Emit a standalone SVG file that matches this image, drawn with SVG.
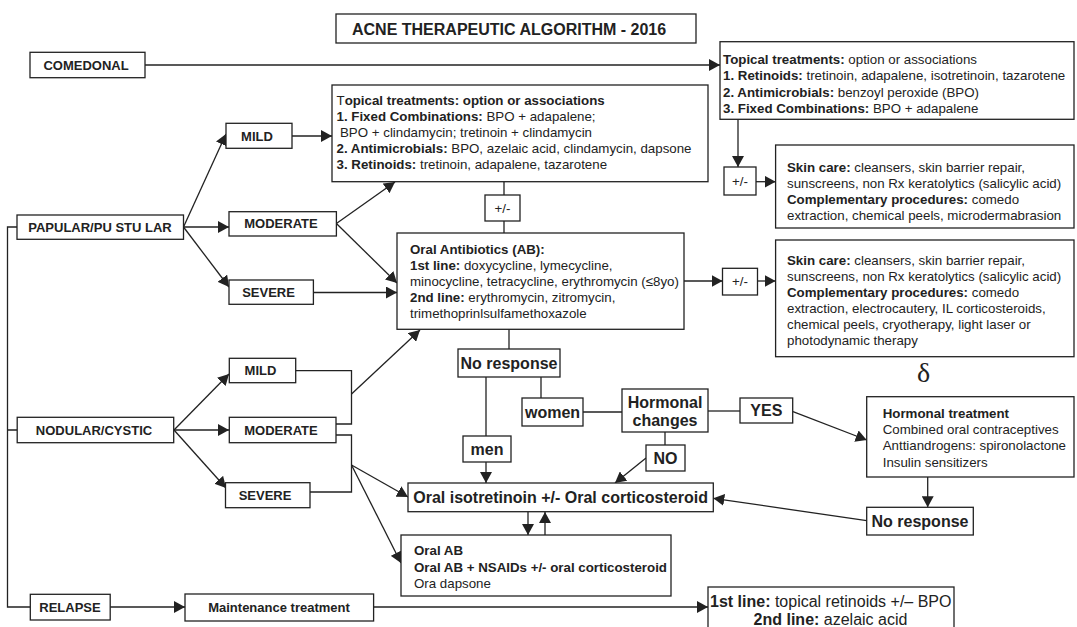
<svg xmlns="http://www.w3.org/2000/svg" width="1077" height="627" viewBox="0 0 1077 627">
  <style>
    text { font-family: "Liberation Sans", Arial, Helvetica, sans-serif; fill: #222; }
    .box { fill: #fff; stroke: #222; stroke-width: 1.3; }
    .lbl { font-size: 13px; font-weight: bold; text-anchor: middle; }
    .big { font-size: 16px; font-weight: bold; text-anchor: middle; }
    .body { font-size: 13.3px; }
    .b { font-weight: bold; }
    .edge { fill: none; stroke: #222; stroke-width: 1.3; }
    .arr { marker-end: url(#head); }
  </style>
  <defs>
    <marker id="head" markerUnits="userSpaceOnUse" markerWidth="12" markerHeight="12" refX="11" refY="6" orient="auto">
      <path d="M0,0 L11,6 L0,12 Z" fill="#222"/>
    </marker>
  </defs>
  <rect width="1077" height="627" fill="#fff"/>

  <!-- connectors -->
  <g id="connectors">
    <path class="edge arr" d="M145,65 H720"/>
    <path class="edge arr" d="M738,119.3 V167"/>
    <path class="edge arr" d="M756,181.7 H775.6"/>
    <path class="edge arr" d="M183.5,227 L226,134"/>
    <path class="edge arr" d="M183.5,227 H229"/>
    <path class="edge arr" d="M183.5,227 L229,287"/>
    <path class="edge arr" d="M292,136 H332"/>
    <path class="edge arr" d="M336.4,223.5 L395,182"/>
    <path class="edge arr" d="M336.4,223.5 L397,283"/>
    <path class="edge arr" d="M313.4,292.5 H397"/>
    <path class="edge" d="M504,181.7 V195 M504,221 V233"/>
    <path class="edge arr" d="M684,281 H722.5"/>
    <path class="edge arr" d="M757.5,281 H775.6"/>
    <path class="edge" d="M509,329 V349"/>
    <path class="edge" d="M486,377 V436 M541,377 V398"/>
    <path class="edge" d="M583,412 H622"/>
    <path class="edge" d="M708,411 H740"/>
    <path class="edge arr" d="M793,411.7 L866.7,440"/>
    <path class="edge" d="M665,432 V445"/>
    <path class="edge arr" d="M646,458 L615,483"/>
    <path class="edge arr" d="M486,462 V483"/>
    <path class="edge arr" d="M927.7,477 V507.3"/>
    <path class="edge arr" d="M866.7,520.7 L713.3,498.3"/>
    <path class="edge arr" d="M528,512 V535"/>
    <path class="edge arr" d="M545,535 V512"/>
    <!-- nodular / cystic branches -->
    <path class="edge" d="M295.7,370.7 H351.5 V424 H336"/>
    <path class="edge arr" d="M351.5,394 L420,330"/>
    <path class="edge arr" d="M174,430 L229,374"/>
    <path class="edge arr" d="M174,430 H229"/>
    <path class="edge arr" d="M174,430 L226,488"/>
    <path class="edge" d="M336,435 H351.5 V492 H310"/>
    <path class="edge arr" d="M351.5,465 L408,497"/>
    <path class="edge arr" d="M351.5,465 L401,563"/>
    <!-- left spine -->
    <path class="edge" d="M17,227 H7.5 V607 H30 M7.5,430 H17"/>
    <path class="edge arr" d="M110,607 H185"/>
    <path class="edge arr" d="M373.6,607 H708"/>
  </g>

  <g id="title">
    <rect class="box" x="336" y="14" width="360" height="29"/>
    <text x="352" y="34.7" style="font-size:16px;font-weight:bold">ACNE THERAPEUTIC ALGORITHM - 2016</text>
  </g>

  <g id="comedonal">
    <rect class="box" x="30" y="52.3" width="115" height="25.4"/>
    <text class="lbl" x="86" y="69.7">COMEDONAL</text>
  </g>

  <g id="comedonal-topical">
    <rect class="box" x="720" y="41.7" width="354" height="77.6"/>
    <text class="body" x="723" y="64"><tspan class="b">Topical treatments:</tspan> option or associations</text>
    <text class="body" x="723" y="80.3"><tspan class="b">1. Retinoids:</tspan> tretinoin, adapalene, isotretinoin, tazarotene</text>
    <text class="body" x="723" y="96.6"><tspan class="b">2. Antimicrobials:</tspan> benzoyl peroxide (BPO)</text>
    <text class="body" x="723" y="112.9"><tspan class="b">3. Fixed Combinations:</tspan> BPO + adapalene</text>
  </g>

  <g id="pm-comedonal">
    <rect class="box" x="724" y="167" width="32" height="28"/>
    <text class="body" x="740" y="185.7" text-anchor="middle">+/-</text>
  </g>

  <g id="skin-care-1">
    <rect class="box" x="775.6" y="145" width="298.4" height="83"/>
    <text class="body" x="787" y="171.8"><tspan class="b">Skin care:</tspan> cleansers, skin barrier repair,</text>
    <text class="body" x="787" y="187.8">sunscreens, non Rx keratolytics (salicylic acid)</text>
    <text class="body" x="787" y="203.8"><tspan class="b">Complementary procedures:</tspan> comedo</text>
    <text class="body" x="787" y="219.8">extraction, chemical peels, microdermabrasion</text>
  </g>

  <g id="papular">
    <rect class="box" x="17" y="215" width="166.5" height="24.3"/>
    <text class="lbl" x="100" y="231.7">PAPULAR/PU STU LAR</text>
  </g>

  <g id="pap-mild">
    <rect class="box" x="226" y="123.3" width="66" height="25"/>
    <text class="lbl" x="257" y="140.7">MILD</text>
  </g>

  <g id="pap-moderate">
    <rect class="box" x="229" y="211.7" width="107.4" height="24.3"/>
    <text class="lbl" x="281" y="228.3">MODERATE</text>
  </g>

  <g id="pap-severe">
    <rect class="box" x="229" y="280" width="84.4" height="24.3"/>
    <text class="lbl" x="268.5" y="296.8">SEVERE</text>
  </g>

  <g id="pap-topical">
    <rect class="box" x="332" y="85" width="376" height="96.7"/>
    <text class="body" x="336.5" y="104.8">T<tspan class="b">opical treatments: option or associations</tspan></text>
    <text class="body" x="336.5" y="121"><tspan class="b">1. Fixed Combinations:</tspan> BPO + adapalene;</text>
    <text class="body" x="340" y="137">BPO + clindamycin; tretinoin + clindamycin</text>
    <text class="body" x="336.5" y="153"><tspan class="b">2. Antimicrobials:</tspan> BPO, azelaic acid, clindamycin, dapsone</text>
    <text class="body" x="336.5" y="169"><tspan class="b">3. Retinoids:</tspan> tretinoin, adapalene, tazarotene</text>
  </g>

  <g id="pm-topical">
    <rect class="box" x="485" y="195" width="35" height="26"/>
    <text class="body" x="502.5" y="212.7" text-anchor="middle">+/-</text>
  </g>

  <g id="oral-ab">
    <rect class="box" x="397" y="233" width="287" height="96.3"/>
    <text class="body b" x="410" y="253.8">Oral Antibiotics (AB):</text>
    <text class="body" x="410" y="269.8"><tspan class="b">1st line:</tspan> doxycycline, lymecycline,</text>
    <text class="body" x="410" y="285.6">minocycline, tetracycline, erythromycin (≤8yo)</text>
    <text class="body" x="410" y="301.5"><tspan class="b">2nd line:</tspan> erythromycin, zitromycin,</text>
    <text class="body" x="410" y="317.5">trimethoprinlsulfamethoxazole</text>
  </g>

  <g id="pm-oral-ab">
    <rect class="box" x="722.5" y="268.3" width="35" height="26.7"/>
    <text class="body" x="740" y="286.4" text-anchor="middle">+/-</text>
  </g>

  <g id="skin-care-2">
    <rect class="box" x="775.6" y="240" width="298.4" height="116.7"/>
    <text class="body" x="787" y="264.8"><tspan class="b">Skin care:</tspan> cleansers, skin barrier repair,</text>
    <text class="body" x="787" y="280.8">sunscreens, non Rx keratolytics (salicylic acid)</text>
    <text class="body" x="787" y="296.8"><tspan class="b">Complementary procedures:</tspan> comedo</text>
    <text class="body" x="787" y="312.8">extraction, electrocautery, IL corticosteroids,</text>
    <text class="body" x="787" y="328.8">chemical peels, cryotherapy, light laser or</text>
    <text class="body" x="787" y="344.8">photodynamic therapy</text>
  </g>

  <g id="delta">
    <text x="923.5" y="382" text-anchor="middle" style="font-family:'Liberation Serif','Times New Roman',serif;font-size:28px">δ</text>
  </g>

  <g id="no-response-1">
    <rect class="box" x="458" y="349" width="102" height="28"/>
    <text class="big" x="509" y="368.5">No response</text>
  </g>

  <g id="women">
    <rect class="box" x="522" y="398" width="61" height="28"/>
    <text class="big" x="552.5" y="417.5">women</text>
  </g>

  <g id="hormonal-changes">
    <rect class="box" x="622" y="389" width="86" height="43"/>
    <text class="big" x="665" y="407.7">Hormonal</text>
    <text class="big" x="665" y="425.7">changes</text>
  </g>

  <g id="yes">
    <rect class="box" x="740" y="398" width="52.7" height="25"/>
    <text class="big" x="766.3" y="416.3">YES</text>
  </g>

  <g id="hormonal-treatment">
    <rect class="box" x="866.7" y="396.7" width="207.3" height="80.3"/>
    <text class="body b" x="882.7" y="418">Hormonal treatment</text>
    <text class="body" x="882.7" y="434.2">Combined oral contraceptives</text>
    <text class="body" x="882.7" y="450.4">Anttiandrogens: spironolactone</text>
    <text class="body" x="882.7" y="466.6">Insulin sensitizers</text>
  </g>

  <g id="men">
    <rect class="box" x="463" y="436" width="48" height="26"/>
    <text class="big" x="487" y="454.7">men</text>
  </g>

  <g id="no">
    <rect class="box" x="646" y="445" width="39" height="26"/>
    <text class="big" x="665.5" y="463.8">NO</text>
  </g>

  <g id="oral-isotretinoin">
    <rect class="box" x="408" y="483" width="305.3" height="28.7"/>
    <text class="big" x="560.6" y="503.4">Oral isotretinoin +/- Oral corticosteroid</text>
  </g>

  <g id="no-response-2">
    <rect class="box" x="866.7" y="507.3" width="106.6" height="27.7"/>
    <text class="big" x="920" y="526.8">No response</text>
  </g>

  <g id="oral-ab-2">
    <rect class="box" x="401" y="535" width="270" height="61"/>
    <text class="body b" x="414" y="554.8">Oral AB</text>
    <text class="body b" x="414" y="571.5">Oral AB + NSAIDs +/- oral corticosteroid</text>
    <text class="body" x="414" y="587.5">Ora dapsone</text>
  </g>

  <g id="nodular">
    <rect class="box" x="17.2" y="417.3" width="156.5" height="25.4"/>
    <text class="lbl" x="94" y="434.7">NODULAR/CYSTIC</text>
  </g>

  <g id="nod-mild">
    <rect class="box" x="229.3" y="358.3" width="66.4" height="24.4"/>
    <text class="lbl" x="260.5" y="375.4">MILD</text>
  </g>

  <g id="nod-moderate">
    <rect class="box" x="229.3" y="417.3" width="106.7" height="25.4"/>
    <text class="lbl" x="281" y="434.7">MODERATE</text>
  </g>

  <g id="nod-severe">
    <rect class="box" x="225.5" y="482.7" width="84.5" height="25"/>
    <text class="lbl" x="265" y="499.7">SEVERE</text>
  </g>

  <g id="relapse">
    <rect class="box" x="30.3" y="594.3" width="79.9" height="25.7"/>
    <text class="lbl" x="70" y="611.8">RELAPSE</text>
  </g>

  <g id="maintenance">
    <rect class="box" x="185" y="594" width="188.6" height="27"/>
    <text class="lbl" x="279" y="611.7">Maintenance treatment</text>
  </g>

  <g id="relapse-lines">
    <rect class="box" x="708" y="587" width="246" height="60"/>
    <text x="710" y="607" style="font-size:16px"><tspan class="b">1st line:</tspan> topical retinoids +/– BPO</text>
    <text x="830.5" y="625" text-anchor="middle" style="font-size:16px"><tspan class="b">2nd line:</tspan> azelaic acid</text>
  </g>
</svg>
